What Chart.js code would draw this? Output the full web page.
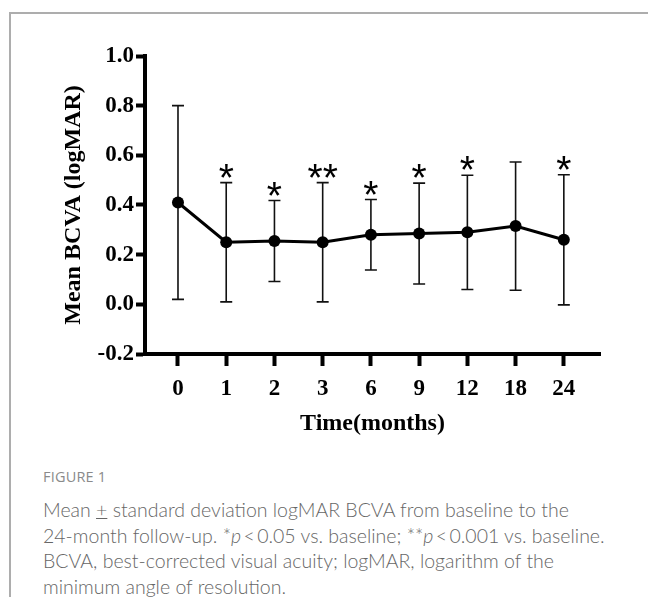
<!DOCTYPE html>
<html>
<head>
<meta charset="utf-8">
<script src="https://cdn.jsdelivr.net/npm/chart.js@4.4.1/dist/chart.umd.min.js"></script>
<style>
  html, body { margin: 0; padding: 0; background: #fff; }
  body { width: 648px; height: 597px; position: relative; overflow: hidden; }
  #frame { position: absolute; left: 9px; top: 12px; right: -10px; bottom: -10px;
           border-top: 2px solid #adadad; border-left: 2px solid #adadad; }
  #chart { position: absolute; left: 0; top: 0; }
  #figlabel { position: absolute; left: 43px; top: 468px; font: 14.5px "Open Sans", sans-serif;
              line-height: 18px; color: #8a8a8a; letter-spacing: 0.2px; }
  #caption { position: absolute; left: 43px; top: 497px; font: 300 19.5px Lato, "Open Sans", sans-serif;
             line-height: 25.5px; color: #666; white-space: nowrap; }
</style>
</head>
<body>
<div id="frame"></div>
<canvas id="chart" width="648" height="460"></canvas>
<div id="figlabel">FIGURE 1</div>
<div id="caption">Mean <u>+</u> standard deviation logMAR BCVA from baseline to the<br>24-month follow-up. *<i>p</i>&thinsp;&lt;&thinsp;0.05 vs. baseline; **<i>p</i>&thinsp;&lt;&thinsp;0.001 vs. baseline.<br>BCVA, best-corrected visual acuity; logMAR, logarithm of the<br>minimum angle of resolution.</div>
<script>
// follow-up months (x categories)
var months = ['0', '1', '2', '3', '6', '9', '12', '18', '24'];
// mean logMAR BCVA and standard deviation at each visit
var meanBcva = [0.41, 0.25, 0.255, 0.25, 0.28, 0.285, 0.29, 0.315, 0.26];
var sdBcva = [0.39, 0.24, 0.163, 0.24, 0.142, 0.203, 0.23, 0.258, 0.262];
// significance marks vs. baseline
var sigMarks = ['', '*', '*', '**', '*', '*', '*', '', '*'];
// y axis ticks
var yTicks = [-0.2, 0.0, 0.2, 0.4, 0.6, 0.8, 1.0];

var serif = '"Liberation Serif", "Times New Roman", serif';

var errorBars = {
    id: 'errorBars',
    beforeDatasetsDraw: function(chart) {
        var ctx = chart.ctx, xs = chart.scales.x, ys = chart.scales.y;
        ctx.save();
        ctx.strokeStyle = '#111';
        ctx.lineWidth = 1.6;
        meanBcva.forEach(function(m, i) {
            var x = xs.getPixelForValue(i);
            var top = ys.getPixelForValue(m + sdBcva[i]);
            var bot = ys.getPixelForValue(m - sdBcva[i]);
            ctx.beginPath();
            ctx.moveTo(x, top); ctx.lineTo(x, bot);
            ctx.moveTo(x - 6, top); ctx.lineTo(x + 6, top);
            ctx.moveTo(x - 6, bot); ctx.lineTo(x + 6, bot);
            ctx.stroke();
        });
        ctx.restore();
    },
    afterDatasetsDraw: function(chart) {
        var ctx = chart.ctx, xs = chart.scales.x, ys = chart.scales.y;
        ctx.save();
        ctx.fillStyle = '#000';
        ctx.font = '39px "Liberation Sans", Arial, sans-serif';
        ctx.textAlign = 'center';
        ctx.textBaseline = 'alphabetic';
        sigMarks.forEach(function(s, i) {
            if (!s) return;
            var x = xs.getPixelForValue(i);
            var top = ys.getPixelForValue(meanBcva[i] + sdBcva[i]);
            var m = ctx.measureText(s);
            ctx.fillText(s, x, top - 5 - m.actualBoundingBoxDescent);
        });
        ctx.restore();
    }
};

new Chart(document.getElementById('chart'), {
    type: 'line',
    data: {
        datasets: [{
            data: meanBcva.map(function(v, i) { return { x: i, y: v }; }),
            borderColor: '#000',
            borderWidth: 3,
            pointRadius: 6,
            pointBackgroundColor: '#000',
            pointBorderWidth: 0,
            tension: 0
        }]
    },
    options: {
        responsive: false,
        animation: false,
        devicePixelRatio: 1,
        layout: { padding: { left: 55, right: 48, top: 56, bottom: 18 } },
        plugins: { legend: { display: false }, tooltip: { enabled: false } },
        scales: {
            x: {
                type: 'linear',
                min: -0.684,
                max: 8.75,
                afterBuildTicks: function(s) { s.ticks = months.map(function(m, i) { return { value: i }; }); },
                afterFit: function(s) { s.height = 88; },
                border: { display: true, color: '#000', width: 4 },
                grid: { drawOnChartArea: false, drawTicks: true, tickLength: 12, tickWidth: 4, tickColor: '#000' },
                ticks: {
                    color: '#000', padding: 9,
                    font: { family: serif, size: 23, weight: 'bold' },
                    callback: function(v) { return months[v]; }
                },
                title: { display: true, text: 'Time(months)', color: '#000',
                         font: { family: serif, size: 24, weight: 'bold' } }
            },
            y: {
                min: -0.2,
                max: 1.0,
                afterBuildTicks: function(s) { s.ticks = yTicks.map(function(v) { return { value: v }; }); },
                afterFit: function(s) { s.width = 90; },
                border: { display: true, color: '#000', width: 4 },
                grid: { drawOnChartArea: false, drawTicks: true, tickLength: 9, tickWidth: 4, tickColor: '#000' },
                ticks: {
                    color: '#000', padding: 2,
                    font: { family: serif, size: 23, weight: 'bold' },
                    callback: function(v) { return v.toFixed(1); }
                },
                title: { display: true, text: 'Mean BCVA (logMAR)', color: '#000',
                         font: { family: serif, size: 24, weight: 'bold' } }
            }
        }
    },
    plugins: [errorBars]
});
</script>
</body>
</html>
